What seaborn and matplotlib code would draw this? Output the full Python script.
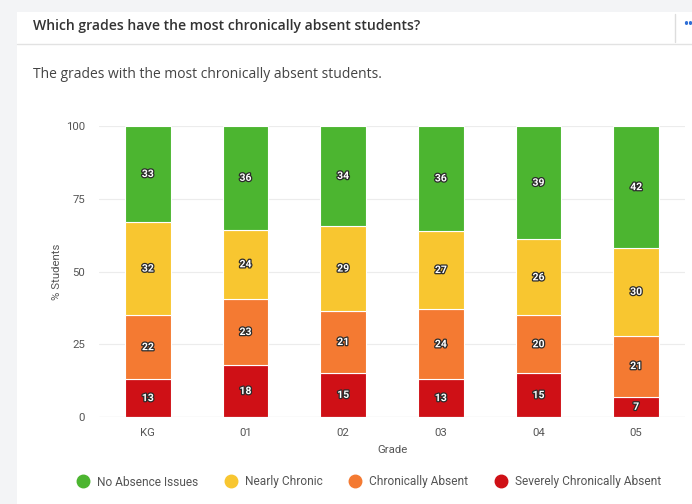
import numpy as np
import pandas as pd
import seaborn as sns
import matplotlib.pyplot as plt
import matplotlib.patheffects as pe
from matplotlib.lines import Line2D

grades = ["KG", "01", "02", "03", "04", "05"]
categories = ["Severely Chronically Absent", "Chronically Absent",
              "Nearly Chronic", "No Absence Issues"]
severely = [13, 18, 15, 13, 15, 7]
chronic = [22, 23, 21, 24, 20, 21]
nearly = [32, 24, 29, 27, 26, 30]
no_issues = [33, 36, 34, 36, 39, 42]
colors = {"No Absence Issues": "#4cb530",
          "Nearly Chronic": "#f8c630",
          "Chronically Absent": "#f47a32",
          "Severely Chronically Absent": "#cf1016"}
legend_order = ["No Absence Issues", "Nearly Chronic",
                "Chronically Absent", "Severely Chronically Absent"]

sns.set_theme(style="white")
plt.rcParams["font.family"] = ["Roboto", "DejaVu Sans"]

values = np.array([severely, chronic, nearly, no_issues], dtype=float)
# bars are drawn to 100% (rounded labels may not sum exactly)
heights = values / values.sum(axis=0) * 100
bottoms = np.vstack([np.zeros(len(grades)), np.cumsum(heights, axis=0)[:-1]])

fig = plt.figure(figsize=(6.92, 5.04), dpi=100)
fig.patch.set_facecolor("#f3f4f6")

# white card
card = plt.Rectangle((17 / 692, 0), 1, 1 - 12 / 504, transform=fig.transFigure,
                     facecolor="white", edgecolor="none", zorder=-10)
fig.patches.append(card)
fig.add_artist(Line2D([17 / 692, 1], [1 - 44 / 504] * 2, color="#e2e2e2", lw=1))
fig.add_artist(Line2D([675 / 692] * 2, [1 - 14 / 504, 1 - 42 / 504], color="#dddddd", lw=1))
fig.text(683 / 692, 1 - 25 / 504, "••", color="#2f6fd6", fontsize=10,
         va="center", ha="left", fontweight="bold")

fig.text(33 / 692, 1 - 26 / 504, "Which grades have the most chronically absent students?",
         family=["Open Sans", "DejaVu Sans"], fontsize=10.1, fontweight="semibold",
         color="#333333", va="center")
fig.text(33 / 692, 1 - 74 / 504, "The grades with the most chronically absent students.",
         family=["Open Sans", "DejaVu Sans"], fontsize=10, color="#444444", va="center")

ax = fig.add_axes([99 / 692, 1 - 417 / 504, 586 / 692, 291 / 504])
ax.set_facecolor("white")

for i, cat in enumerate(categories):
    df = pd.DataFrame({"Grade": grades, "Value": heights[i]})
    sns.barplot(data=df, x="Grade", y="Value", ax=ax, color=colors[cat],
                bottom=bottoms[i], width=0.47, edgecolor="white", linewidth=0.8,
                saturation=1, zorder=3)
    for j in range(len(grades)):
        ax.text(j, bottoms[i][j] + heights[i][j] / 2, f"{int(values[i][j])}",
                ha="center", va="center", fontsize=7.5, fontweight="bold",
                color="white", zorder=5,
                path_effects=[pe.withStroke(linewidth=1.8, foreground="#2b2b2b")])

ax.set_ylim(0, 100)
ax.set_xlim(-0.5, len(grades) - 0.5)
ax.set_yticks([0, 25, 50, 75, 100])
ax.yaxis.grid(True, color="#ececec", lw=0.8, zorder=0)
ax.axhline(0, color="#d0d0d0", lw=0.8, zorder=4)
for s in ax.spines.values():
    s.set_visible(False)
ax.tick_params(axis="both", length=0, labelsize=8.2, labelcolor="#555555")
ax.tick_params(axis="y", pad=10)
ax.tick_params(axis="x", pad=8)
ax.set_xlabel("Grade", fontsize=8.2, color="#555555", labelpad=5)
ax.set_ylabel("% Students", fontsize=8.2, color="#555555", labelpad=3)

handles = [Line2D([], [], marker="o", ls="", markersize=9,
                  markerfacecolor=colors[c], markeredgecolor=colors[c], label=c)
           for c in legend_order]
fig.legend(handles=handles, loc="center", bbox_to_anchor=(369 / 692, 1 - 482 / 504),
           ncol=4, frameon=False, fontsize=8.6, handlelength=1.0, handletextpad=0.7,
           columnspacing=2.2, labelcolor="#555555")

fig.savefig("out.png", dpi=100, facecolor=fig.get_facecolor())
